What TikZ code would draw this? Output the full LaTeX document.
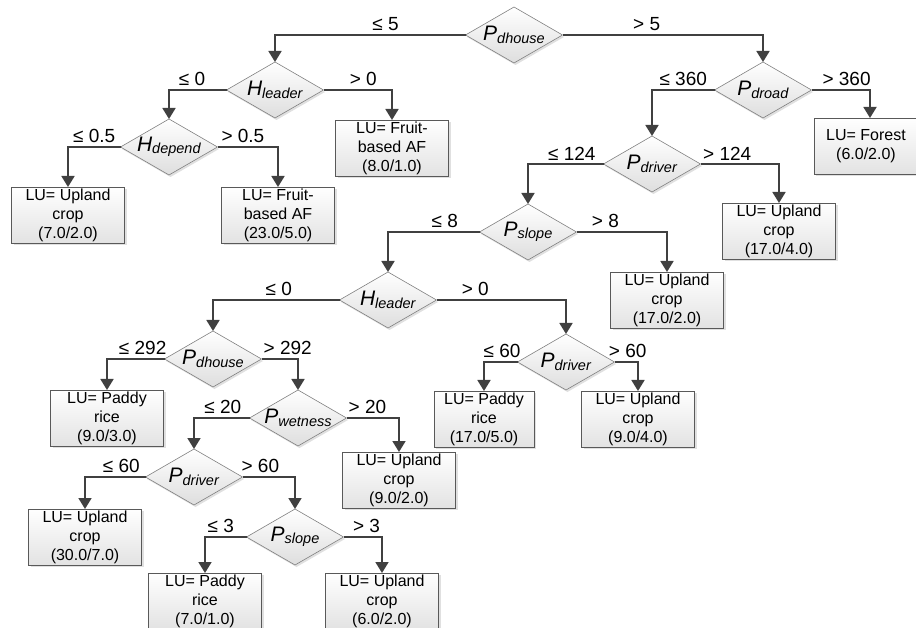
\documentclass[tikz,border=0pt]{standalone}
\usepackage{fontspec}
\setmainfont{Liberation Sans}
\usetikzlibrary{positioning, arrows.meta, shapes.geometric, shadows}

\newcommand{\attr}[2]{\textit{#1}\raisebox{-2.5pt}{\fontsize{14.5}{14.5}\selectfont\textit{#2}}}

\begin{document}
\begin{tikzpicture}[
    x=1pt, y=-1pt,
    every node/.style={font=\fontsize{16}{19}\selectfont},
    every label/.style={font=\fontsize{21}{21}\selectfont, inner sep=0pt},
    cond/.style={diamond, draw=black!50, line width=0.6pt, top color=white, bottom color=black!13,
      minimum width=97pt, minimum height=56pt, inner sep=0pt, outer sep=0pt,
      drop shadow={shadow xshift=1.5pt, shadow yshift=-2pt, fill=black!30, opacity=0.4}},
    leaf/.style={rectangle, draw=black!65, line width=0.7pt, top color=white, bottom color=black!11,
      minimum width=113pt, minimum height=56pt, inner sep=0pt, outer sep=0pt, align=center,
      drop shadow={shadow xshift=2pt, shadow yshift=-2pt, fill=black!30, opacity=0.4}},
    arrow/.style={-{Triangle[length=11pt, width=13pt]}, draw=black!75, line width=1.8pt},
    lbl/.style={above=2pt, inner sep=1pt, font=\fontsize{19}{19}\selectfont}
  ]
  \useasboundingbox (0,0) rectangle (916,628);

  % splits
  \node[cond, label=center:{\attr{P}{dhouse}}]  (pdh)  at (514,35)  {};
  \node[cond, label=center:{\attr{H}{leader}}]  (hl1)  at (275,90)  {};
  \node[cond, label=center:{\attr{H}{depend}}]  (hdp)  at (169,147) {};
  \node[cond, label=center:{\attr{P}{droad}}]   (pdr)  at (763,90)  {};
  \node[cond, label=center:{\attr{P}{driver}}]  (prv)  at (652,164) {};
  \node[cond, label=center:{\attr{P}{slope}}]   (psl)  at (528,232) {};
  \node[cond, label=center:{\attr{H}{leader}}]  (hl2)  at (388,300) {};
  \node[cond, label=center:{\attr{P}{dhouse}}]  (pdh2) at (213,359) {};
  \node[cond, label=center:{\attr{P}{driver}}]  (prv3) at (566,362) {};
  \node[cond, label=center:{\attr{P}{wetness}}] (pwt)  at (298,418) {};
  \node[cond, label=center:{\attr{P}{driver}}]  (prv2) at (194,477) {};
  \node[cond, label=center:{\attr{P}{slope}}]   (psl2) at (295,537) {};

  % land use leaves
  \node[leaf]                  (lf1)  at (68,215)  {LU= Upland\\crop\\(7.0/2.0)};
  \node[leaf]                  (lf2)  at (278,215) {LU= Fruit-\\based AF\\(23.0/5.0)};
  \node[leaf]                  (lf3)  at (392,148) {LU= Fruit-\\based AF\\(8.0/1.0)};
  \node[leaf, minimum width=104pt] (lf4) at (866,146) {LU= Forest\\(6.0/2.0)};
  \node[leaf]                  (lf5)  at (779,231) {LU= Upland\\crop\\(17.0/4.0)};
  \node[leaf]                  (lf6)  at (667,300) {LU= Upland\\crop\\(17.0/2.0)};
  \node[leaf]                  (lf7)  at (107,418) {LU= Paddy\\rice\\(9.0/3.0)};
  \node[leaf, minimum width=100pt] (lf8) at (484,419) {LU= Paddy\\rice\\(17.0/5.0)};
  \node[leaf]                  (lf9)  at (638,419) {LU= Upland\\crop\\(9.0/4.0)};
  \node[leaf]                  (lf10) at (399,480) {LU= Upland\\crop\\(9.0/2.0)};
  \node[leaf]                  (lf11) at (85,537)  {LU= Upland\\crop\\(30.0/7.0)};
  \node[leaf]                  (lf12) at (205,601) {LU= Paddy\\rice\\(7.0/1.0)};
  \node[leaf]                  (lf13) at (382,601) {LU= Upland\\crop\\(6.0/2.0)};

  \draw[arrow] (pdh.west)  -| node[lbl, pos=0.21] {≤ 5}   (hl1.north);
  \draw[arrow] (pdh.east)  -| node[lbl, pos=0.21] {> 5}   (pdr.north);
  \draw[arrow] (hl1.west)  -| node[lbl, pos=0.30] {≤ 0}   (hdp.north);
  \draw[arrow] (hl1.east)  -| node[lbl, pos=0.29] {> 0}   (lf3.north);
  \draw[arrow] (hdp.west)  -| node[lbl, pos=0.25] {≤ 0.5} (lf1.north);
  \draw[arrow] (hdp.east)  -| node[lbl, pos=0.21] {> 0.5} (lf2.north);
  \draw[arrow] (pdr.west)  -| node[lbl, pos=0.25] {≤ 360} (prv.north);
  \draw[arrow] (pdr.east)  -| node[lbl, pos=0.30] {> 360} (lf4.north -| 870,0);
  \draw[arrow] (prv.west)  -| node[lbl, pos=0.21] {≤ 124} (psl.north);
  \draw[arrow] (prv.east)  -| node[lbl, pos=0.17] {> 124} (lf5.north);
  \draw[arrow] (psl.west)  -| node[lbl, pos=0.19] {≤ 8}   (hl2.north);
  \draw[arrow] (psl.east)  -| node[lbl, pos=0.16] {> 8}   (lf6.north);
  \draw[arrow] (hl2.west)  -| node[lbl, pos=0.24] {≤ 0}   (pdh2.north);
  \draw[arrow] (hl2.east)  -| node[lbl, pos=0.15] {> 0}   (prv3.north);
  \draw[arrow] (pdh2.west) -| node[lbl, pos=0.19] {≤ 292} (lf7.north);
  \draw[arrow] (pdh2.east) -| node[lbl, pos=0.36] {> 292} (pwt.north);
  \draw[arrow] (prv3.west) -| node[lbl, pos=0.23] {≤ 60}  (lf8.north);
  \draw[arrow] (prv3.east) -| node[lbl, pos=0.28] {> 60}  (lf9.north);
  \draw[arrow] (pwt.west)  -| node[lbl, pos=0.24] {≤ 20}  (prv2.north);
  \draw[arrow] (pwt.east)  -| node[lbl, pos=0.20] {> 20}  (lf10.north);
  \draw[arrow] (prv2.west) -| node[lbl, pos=0.20] {≤ 60}  (lf11.north);
  \draw[arrow] (prv2.east) -| node[lbl, pos=0.17] {> 60}  (psl2.north);
  \draw[arrow] (psl2.west) -| node[lbl, pos=0.31] {≤ 3}   (lf12.north);
  \draw[arrow] (psl2.east) -| node[lbl, pos=0.30] {> 3}   (lf13.north);
\end{tikzpicture}
\end{document}
